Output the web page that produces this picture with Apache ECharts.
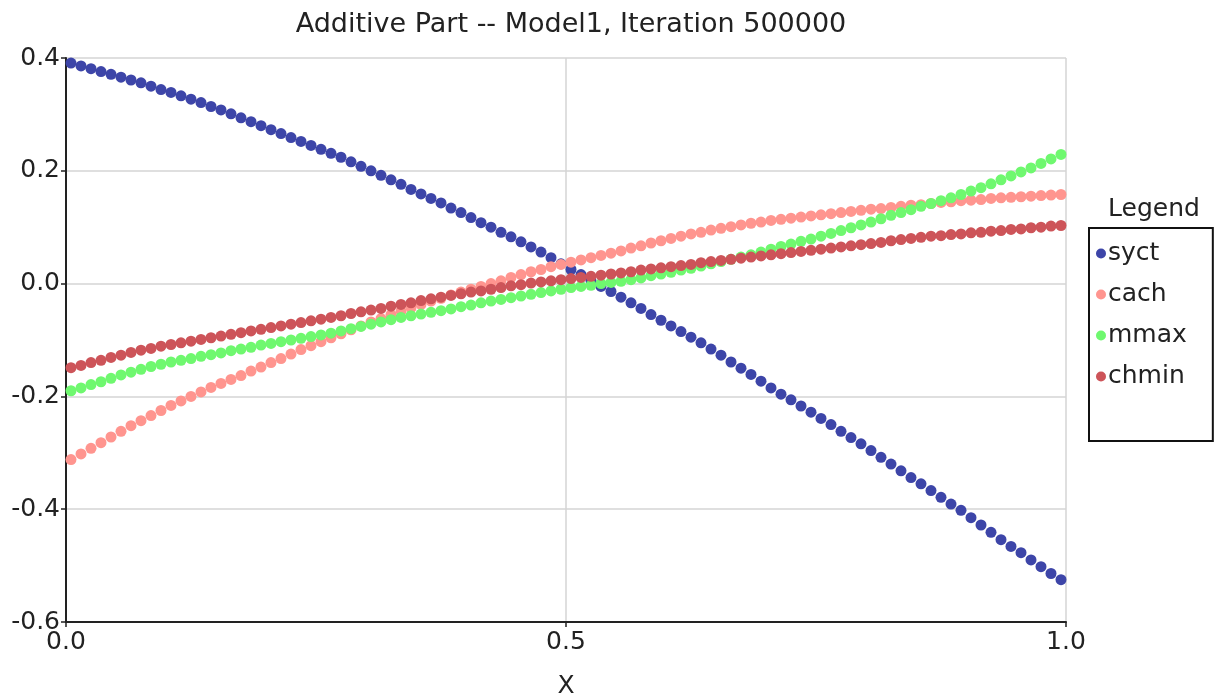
<!DOCTYPE html>
<html>
<head>
<meta charset="utf-8">
<title>Additive Part</title>
<script src="https://cdn.jsdelivr.net/npm/echarts@6/dist/echarts.min.js"></script>
<style>
    html, body { margin: 0; padding: 0; background: #fff; }
    #main { width: 1226px; height: 699px; }
</style>
</head>
<body>
<div id="main"></div>
<script>
// sample positions along X (dot centres)
var xValues = [
    0.005, 0.015, 0.025, 0.035, 0.045, 0.055, 0.065, 0.075, 0.085, 0.095,
    0.105, 0.115, 0.125, 0.135, 0.145, 0.155, 0.165, 0.175, 0.185, 0.195,
    0.205, 0.215, 0.225, 0.235, 0.245, 0.255, 0.265, 0.275, 0.285, 0.295,
    0.305, 0.315, 0.325, 0.335, 0.345, 0.355, 0.365, 0.375, 0.385, 0.395,
    0.405, 0.415, 0.425, 0.435, 0.445, 0.455, 0.465, 0.475, 0.485, 0.495,
    0.505, 0.515, 0.525, 0.535, 0.545, 0.555, 0.565, 0.575, 0.585, 0.595,
    0.605, 0.615, 0.625, 0.635, 0.645, 0.655, 0.665, 0.675, 0.685, 0.695,
    0.705, 0.715, 0.725, 0.735, 0.745, 0.755, 0.765, 0.775, 0.785, 0.795,
    0.805, 0.815, 0.825, 0.835, 0.845, 0.855, 0.865, 0.875, 0.885, 0.895,
    0.905, 0.915, 0.925, 0.935, 0.945, 0.955, 0.965, 0.975, 0.985, 0.995
];

var syct = [
    0.391, 0.386, 0.381, 0.376, 0.371, 0.366, 0.361, 0.356, 0.350, 0.344,
    0.339, 0.333, 0.327, 0.321, 0.314, 0.308, 0.301, 0.294, 0.287, 0.280,
    0.273, 0.266, 0.259, 0.252, 0.245, 0.238, 0.231, 0.224, 0.216, 0.208,
    0.200, 0.192, 0.184, 0.176, 0.167, 0.159, 0.151, 0.143, 0.134, 0.126,
    0.117, 0.108, 0.100, 0.091, 0.083, 0.074, 0.065, 0.056, 0.046, 0.035,
    0.025, 0.016, 0.005, -0.005, -0.014, -0.024, -0.034, -0.044, -0.055, -0.065,
    -0.075, -0.085, -0.095, -0.105, -0.116, -0.127, -0.139, -0.150, -0.161, -0.173,
    -0.185, -0.196, -0.206, -0.217, -0.228, -0.239, -0.250, -0.262, -0.273, -0.284,
    -0.296, -0.308, -0.320, -0.332, -0.344, -0.355, -0.367, -0.379, -0.391, -0.402,
    -0.415, -0.428, -0.441, -0.454, -0.466, -0.477, -0.490, -0.502, -0.514, -0.525
];

var cach = [
    -0.312, -0.302, -0.292, -0.282, -0.272, -0.262, -0.252, -0.243, -0.234, -0.225,
    -0.216, -0.208, -0.200, -0.192, -0.184, -0.177, -0.170, -0.163, -0.155, -0.148,
    -0.140, -0.133, -0.125, -0.117, -0.110, -0.103, -0.096, -0.089, -0.082, -0.075,
    -0.068, -0.062, -0.055, -0.049, -0.043, -0.037, -0.031, -0.026, -0.020, -0.015,
    -0.010, -0.005, 0.000, 0.005, 0.011, 0.016, 0.021, 0.025, 0.030, 0.034,
    0.038, 0.042, 0.046, 0.050, 0.054, 0.058, 0.063, 0.067, 0.072, 0.076,
    0.080, 0.084, 0.088, 0.091, 0.095, 0.098, 0.101, 0.104, 0.107, 0.109,
    0.112, 0.114, 0.116, 0.118, 0.120, 0.122, 0.124, 0.126, 0.128, 0.130,
    0.132, 0.133, 0.135, 0.137, 0.139, 0.140, 0.142, 0.144, 0.145, 0.147,
    0.148, 0.149, 0.151, 0.152, 0.153, 0.154, 0.155, 0.156, 0.157, 0.158
];

var mmax = [
    -0.190, -0.185, -0.179, -0.174, -0.168, -0.162, -0.157, -0.152, -0.147, -0.143,
    -0.139, -0.136, -0.133, -0.129, -0.126, -0.123, -0.119, -0.116, -0.113, -0.109,
    -0.106, -0.103, -0.100, -0.097, -0.094, -0.091, -0.088, -0.084, -0.080, -0.076,
    -0.072, -0.068, -0.064, -0.060, -0.057, -0.054, -0.051, -0.048, -0.045, -0.041,
    -0.038, -0.034, -0.031, -0.028, -0.025, -0.022, -0.019, -0.016, -0.013, -0.010,
    -0.007, -0.005, -0.003, 0.000, 0.002, 0.004, 0.007, 0.010, 0.014, 0.017,
    0.020, 0.024, 0.027, 0.031, 0.035, 0.039, 0.043, 0.047, 0.051, 0.056,
    0.061, 0.066, 0.070, 0.075, 0.079, 0.084, 0.089, 0.094, 0.099, 0.104,
    0.109, 0.115, 0.121, 0.126, 0.131, 0.137, 0.142, 0.147, 0.152, 0.158,
    0.164, 0.170, 0.177, 0.184, 0.191, 0.198, 0.205, 0.213, 0.221, 0.229
];

var chmin = [
    -0.149, -0.145, -0.140, -0.136, -0.131, -0.127, -0.122, -0.118, -0.115, -0.111,
    -0.108, -0.105, -0.102, -0.099, -0.096, -0.093, -0.090, -0.087, -0.084, -0.081,
    -0.078, -0.075, -0.072, -0.069, -0.066, -0.063, -0.060, -0.057, -0.053, -0.050,
    -0.047, -0.044, -0.040, -0.037, -0.034, -0.030, -0.027, -0.024, -0.021, -0.018,
    -0.015, -0.013, -0.010, -0.007, -0.004, -0.002, 0.001, 0.003, 0.005, 0.007,
    0.009, 0.011, 0.013, 0.015, 0.017, 0.019, 0.021, 0.024, 0.026, 0.028,
    0.030, 0.032, 0.034, 0.037, 0.039, 0.041, 0.043, 0.045, 0.047, 0.049,
    0.051, 0.053, 0.055, 0.057, 0.059, 0.061, 0.063, 0.065, 0.067, 0.069,
    0.071, 0.073, 0.076, 0.078, 0.080, 0.082, 0.084, 0.085, 0.087, 0.088,
    0.090, 0.091, 0.093, 0.094, 0.096, 0.097, 0.099, 0.100, 0.102, 0.103
];

var seriesNames = ["syct", "cach", "mmax", "chmin"];
var seriesColors = ["#3d45a8", "#ff958f", "#6ff86f", "#cd5459"];
var seriesValues = [syct, cach, mmax, chmin];

var FONT = "DejaVu Sans";
var FONT_SIZE = 25;

var pairUp = function(values) {
    return values.map(function(v, i) {
        return [xValues[i], v];
    });
};

var chart = echarts.init(document.getElementById("main"), null, { renderer: "canvas" });

var series = seriesNames.map(function(name, k) {
    return {
        name: name,
        type: "scatter",
        symbol: "circle",
        symbolSize: 11,
        itemStyle: { color: seriesColors[k], opacity: 1 },
        emphasis: { disabled: true },
        animation: false,
        data: pairUp(seriesValues[k])
    };
});

chart.setOption({
    animation: false,
    backgroundColor: "#fff",
    title: [{
        text: "Additive Part -- Model1, Iteration 500000",
        left: 566,
        top: 6,
        textAlign: "center",
        textStyle: { fontFamily: FONT, fontSize: 27, fontWeight: "normal", color: "#222" }
    }, {
        text: "Legend",
        left: 1149,
        top: 192,
        textAlign: "center",
        textStyle: { fontFamily: FONT, fontSize: FONT_SIZE, fontWeight: "normal", color: "#222" }
    }],
    legend: {
        orient: "vertical",
        left: 1089,
        top: 228,
        icon: "circle",
        itemWidth: 10,
        itemHeight: 10,
        itemGap: 16,
        padding: [13, 26, 52, 7],
        borderColor: "#111",
        borderWidth: 2,
        selectedMode: false,
        data: seriesNames,
        textStyle: { fontFamily: FONT, fontSize: FONT_SIZE, lineHeight: 25, color: "#222", padding: [0, 0, 0, -3] }
    },
    grid: {
        left: 66,
        right: 160,
        top: 58,
        bottom: 77,
        containLabel: false,
        outerBoundsMode: "none"
    },
    xAxis: {
        type: "value",
        min: 0,
        max: 1,
        interval: 0.5,
        name: "X",
        nameLocation: "middle",
        nameGap: 52,
        nameTextStyle: { fontFamily: FONT, fontSize: FONT_SIZE, color: "#222" },
        axisLine: { show: true, onZero: false, lineStyle: { color: "#222", width: 2 } },
        axisTick: { show: true, length: 5, lineStyle: { color: "#222", width: 1.5 } },
        axisLabel: {
            fontFamily: FONT,
            fontSize: FONT_SIZE,
            color: "#222",
            margin: 8,
            formatter: function(v) { return v.toFixed(1); }
        },
        splitLine: { show: true, lineStyle: { color: "#d4d4d4", width: 1.5 } }
    },
    yAxis: {
        type: "value",
        min: -0.6,
        max: 0.4,
        interval: 0.2,
        axisLine: { show: true, onZero: false, lineStyle: { color: "#222", width: 2 } },
        axisTick: { show: true, length: 5, lineStyle: { color: "#222", width: 1.5 } },
        axisLabel: {
            fontFamily: FONT,
            fontSize: FONT_SIZE,
            color: "#222",
            margin: 6,
            formatter: function(v) { return v.toFixed(1); }
        },
        splitLine: { show: true, lineStyle: { color: "#d4d4d4", width: 1.5 } }
    },
    series: series
});

window.addEventListener("resize", chart.resize);
</script>
</body>
</html>
